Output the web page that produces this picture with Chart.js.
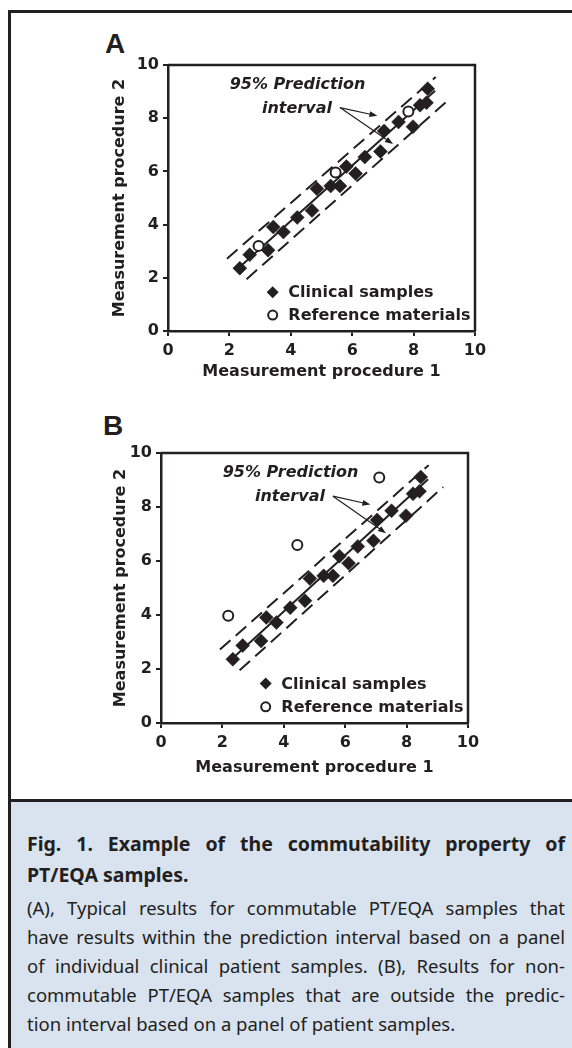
<!DOCTYPE html>
<html>
<head>
<meta charset="utf-8">
<script src="https://cdn.jsdelivr.net/npm/chart.js@4.4.1/dist/chart.umd.min.js"></script>
<style>
  html, body { margin: 0; padding: 0; background: #fff; }
  #page { position: relative; width: 572px; height: 1048px; overflow: hidden; }
  .frame-l { position: absolute; left: 8px; top: 10px; width: 2.5px; height: 1040px; background: #231f20; }
  .frame-t { position: absolute; left: 8px; top: 10px; width: 570px; height: 2.5px; background: #231f20; }
  .frame-m { position: absolute; left: 8px; top: 799px; width: 570px; height: 2.5px; background: #231f20; }
  .caption-bg { position: absolute; left: 10.5px; top: 801.5px; width: 570px; height: 250px; background: #d9e2ef; }
  .panel-label { position: absolute; font: bold 28px "Liberation Sans", Arial, sans-serif; color: #231f20; line-height: 1; }
  .chart-box { position: absolute; left: 0; }
  .caption { position: absolute; left: 27px; width: 538px; top: 828px; color: #231f20; font-family: "Noto Sans", sans-serif; }
  .caption div { white-space: nowrap; text-align: justify; text-align-last: justify; height: 29px; line-height: 29px; }
  .caption div.last { text-align-last: left; }
  .caption .head { font-weight: bold; font-size: 19.5px; height: 31px; line-height: 31px; }
  .caption .body { font-size: 18.5px; }
</style>
</head>
<body>
<div id="page">
  <div class="frame-t"></div>
  <div class="frame-l"></div>
  <div class="frame-m"></div>
  <div class="caption-bg"></div>

  <div class="panel-label" style="left:105px;top:30px">A</div>
  <div class="chart-box" style="top:0"><canvas id="chartA" width="572" height="390"></canvas></div>

  <div class="panel-label" style="left:103px;top:412px">B</div>
  <div class="chart-box" style="top:390px"><canvas id="chartB" width="572" height="410"></canvas></div>

  <div class="caption">
    <div class="head">Fig. 1. Example of the commutability property of</div>
    <div class="head last">PT/EQA samples.</div>
    <div class="body" style="margin-top:3px">(A), Typical results for commutable PT/EQA samples that</div>
    <div class="body">have results within the prediction interval based on a panel</div>
    <div class="body">of individual clinical patient samples. (B), Results for non-</div>
    <div class="body">commutable PT/EQA samples that are outside the predic-</div>
    <div class="body last">tion interval based on a panel of patient samples.</div>
  </div>
</div>

<script>
// clinical samples (same panel in A and B)
const clinX = [2.34, 2.66, 3.26, 3.43, 3.76, 4.21, 4.69, 4.85, 5.30, 5.60, 5.81, 6.11, 6.41, 6.92, 7.04, 7.51, 7.98, 8.21, 8.42, 8.46];
const clinY = [2.36, 2.87, 3.04, 3.91, 3.72, 4.27, 4.53, 5.35, 5.45, 5.45, 6.18, 5.92, 6.54, 6.75, 7.52, 7.86, 7.68, 8.49, 8.58, 9.11];

// reference materials
const refAX = [2.95, 5.46, 7.83];
const refAY = [3.20, 5.96, 8.25];
const refBX = [2.19, 4.44, 7.11];
const refBY = [3.97, 6.59, 9.09];

// regression line and 95% prediction interval (end points)
const fitX = [2.22, 8.70];
const fitY = [2.28, 9.03];
const upperX = [1.92, 8.72];
const upperY = [2.72, 9.55];
const lowerX = [2.56, 9.19];
const lowerY = [1.95, 8.74];

// annotation text + arrows (data units)
const noteLines = ['95% Prediction', 'interval'];
const noteX = [4.22, 4.20];
const noteY = [9.27, 8.37];
const arrowFrom = [5.60, 8.40];
const arrowTo = [[6.82, 8.09], [7.33, 7.03]];

// legend (data units)
const legendLabels = ['Clinical samples', 'Reference materials'];
const legendX = 3.41;
const legendTextX = 3.92;
const legendY = [1.46, 0.60];

const ticks = [0, 2, 4, 6, 8, 10];

const INK = '#231f20';
const FONT = '"DejaVu Sans", sans-serif';

const pts = (xs, ys) => xs.map((x, i) => ({ x, y: ys[i] }));

function arrow(ctx, x1, y1, x2, y2) {
  const a = Math.atan2(y2 - y1, x2 - x1), len = 8, w = 3;
  ctx.beginPath(); ctx.moveTo(x1, y1); ctx.lineTo(x2 - Math.cos(a) * len * 0.6, y2 - Math.sin(a) * len * 0.6); ctx.stroke();
  ctx.beginPath();
  ctx.moveTo(x2, y2);
  ctx.lineTo(x2 - Math.cos(a) * len + Math.sin(a) * w, y2 - Math.sin(a) * len - Math.cos(a) * w);
  ctx.lineTo(x2 - Math.cos(a) * len - Math.sin(a) * w, y2 - Math.sin(a) * len + Math.cos(a) * w);
  ctx.closePath(); ctx.fill();
}

const extras = {
  id: 'extras',
  afterDatasetsDraw(chart) {
    const { ctx, chartArea: ca, scales: { x, y } } = chart;
    ctx.save();
    ctx.strokeStyle = INK; ctx.fillStyle = INK;
    ctx.lineWidth = 2.5;
    ctx.beginPath();
    ctx.moveTo(ca.left, ca.top); ctx.lineTo(ca.right, ca.top); ctx.lineTo(ca.right, ca.bottom);
    ctx.stroke();

    ctx.font = 'italic bold 16px ' + FONT;
    ctx.textAlign = 'center'; ctx.textBaseline = 'middle';
    noteLines.forEach((t, i) => ctx.fillText(t, x.getPixelForValue(noteX[i]), y.getPixelForValue(noteY[i])));

    ctx.lineWidth = 1.2;
    const fx = x.getPixelForValue(arrowFrom[0]), fy = y.getPixelForValue(arrowFrom[1]);
    arrowTo.forEach(p => arrow(ctx, fx, fy, x.getPixelForValue(p[0]), y.getPixelForValue(p[1])));

    // legend
    const lx = x.getPixelForValue(legendX);
    const d = y.getPixelForValue(legendY[0]), c = y.getPixelForValue(legendY[1]);
    ctx.beginPath();
    ctx.moveTo(lx - 6, d); ctx.lineTo(lx, d - 6); ctx.lineTo(lx + 6, d); ctx.lineTo(lx, d + 6);
    ctx.closePath(); ctx.fill();
    ctx.lineWidth = 2;
    ctx.beginPath(); ctx.arc(lx, c, 4.5, 0, Math.PI * 2); ctx.stroke();
    ctx.font = 'bold 16px ' + FONT;
    ctx.textAlign = 'left';
    const tx = x.getPixelForValue(legendTextX);
    ctx.fillText(legendLabels[0], tx, d + 1);
    ctx.fillText(legendLabels[1], tx, c + 1);
    ctx.restore();
  }
};

function makeChart(id, refX, refY, box) {
  const axisFont = { family: FONT, weight: 'bold', size: 16 };
  const axisBase = {
    type: 'linear', min: 0, max: 10,
    afterBuildTicks: s => { s.ticks = ticks.map(v => ({ value: v })); },
    grid: { drawOnChartArea: false, drawTicks: true, tickLength: 5, color: INK, lineWidth: 2 },
    border: { display: true, color: INK, width: 2.5 },
  };
  return new Chart(document.getElementById(id), {
    type: 'scatter',
    data: {
      datasets: [
        { label: 'Clinical samples', data: pts(clinX, clinY), pointStyle: 'rectRot', pointRadius: 7,
          backgroundColor: INK, borderColor: INK, borderWidth: 0.5 },
        { label: 'Reference materials', data: pts(refX, refY), pointStyle: 'circle', pointRadius: 5,
          backgroundColor: '#fff', borderColor: INK, borderWidth: 2 },
        { label: 'fit', data: pts(fitX, fitY), showLine: true, pointRadius: 0, borderColor: INK, borderWidth: 2 },
        { label: 'upper', data: pts(upperX, upperY), showLine: true, pointRadius: 0, borderColor: INK, borderWidth: 2, borderDash: [14, 7] },
        { label: 'lower', data: pts(lowerX, lowerY), showLine: true, pointRadius: 0, borderColor: INK, borderWidth: 2, borderDash: [14, 7] }
      ]
    },
    options: {
      responsive: false, animation: false, devicePixelRatio: 1,
      layout: { padding: box.pad },
      plugins: { legend: { display: false }, tooltip: { enabled: false } },
      scales: {
        x: Object.assign({}, axisBase, {
          afterFit: s => { s.height = box.xh; },
          ticks: { color: INK, font: axisFont, padding: 5 },
          title: { display: true, text: 'Measurement procedure 1', color: INK, font: axisFont, padding: { top: 0, bottom: 2 } }
        }),
        y: Object.assign({}, axisBase, {
          afterFit: s => { s.width = box.yw; },
          ticks: { color: INK, font: axisFont, padding: 4 },
          title: { display: true, text: 'Measurement procedure 2', color: INK, font: axisFont, padding: { top: 2, bottom: 0 } }
        })
      }
    },
    plugins: [extras]
  });
}

makeChart('chartA', refAX, refAY, { pad: { left: 108, top: 65, right: 97, bottom: 7 }, xh: 52, yw: 60 });
makeChart('chartB', refBX, refBY, { pad: { left: 109, top: 63, right: 104, bottom: 21 }, xh: 56, yw: 52 });
</script>
</body>
</html>
